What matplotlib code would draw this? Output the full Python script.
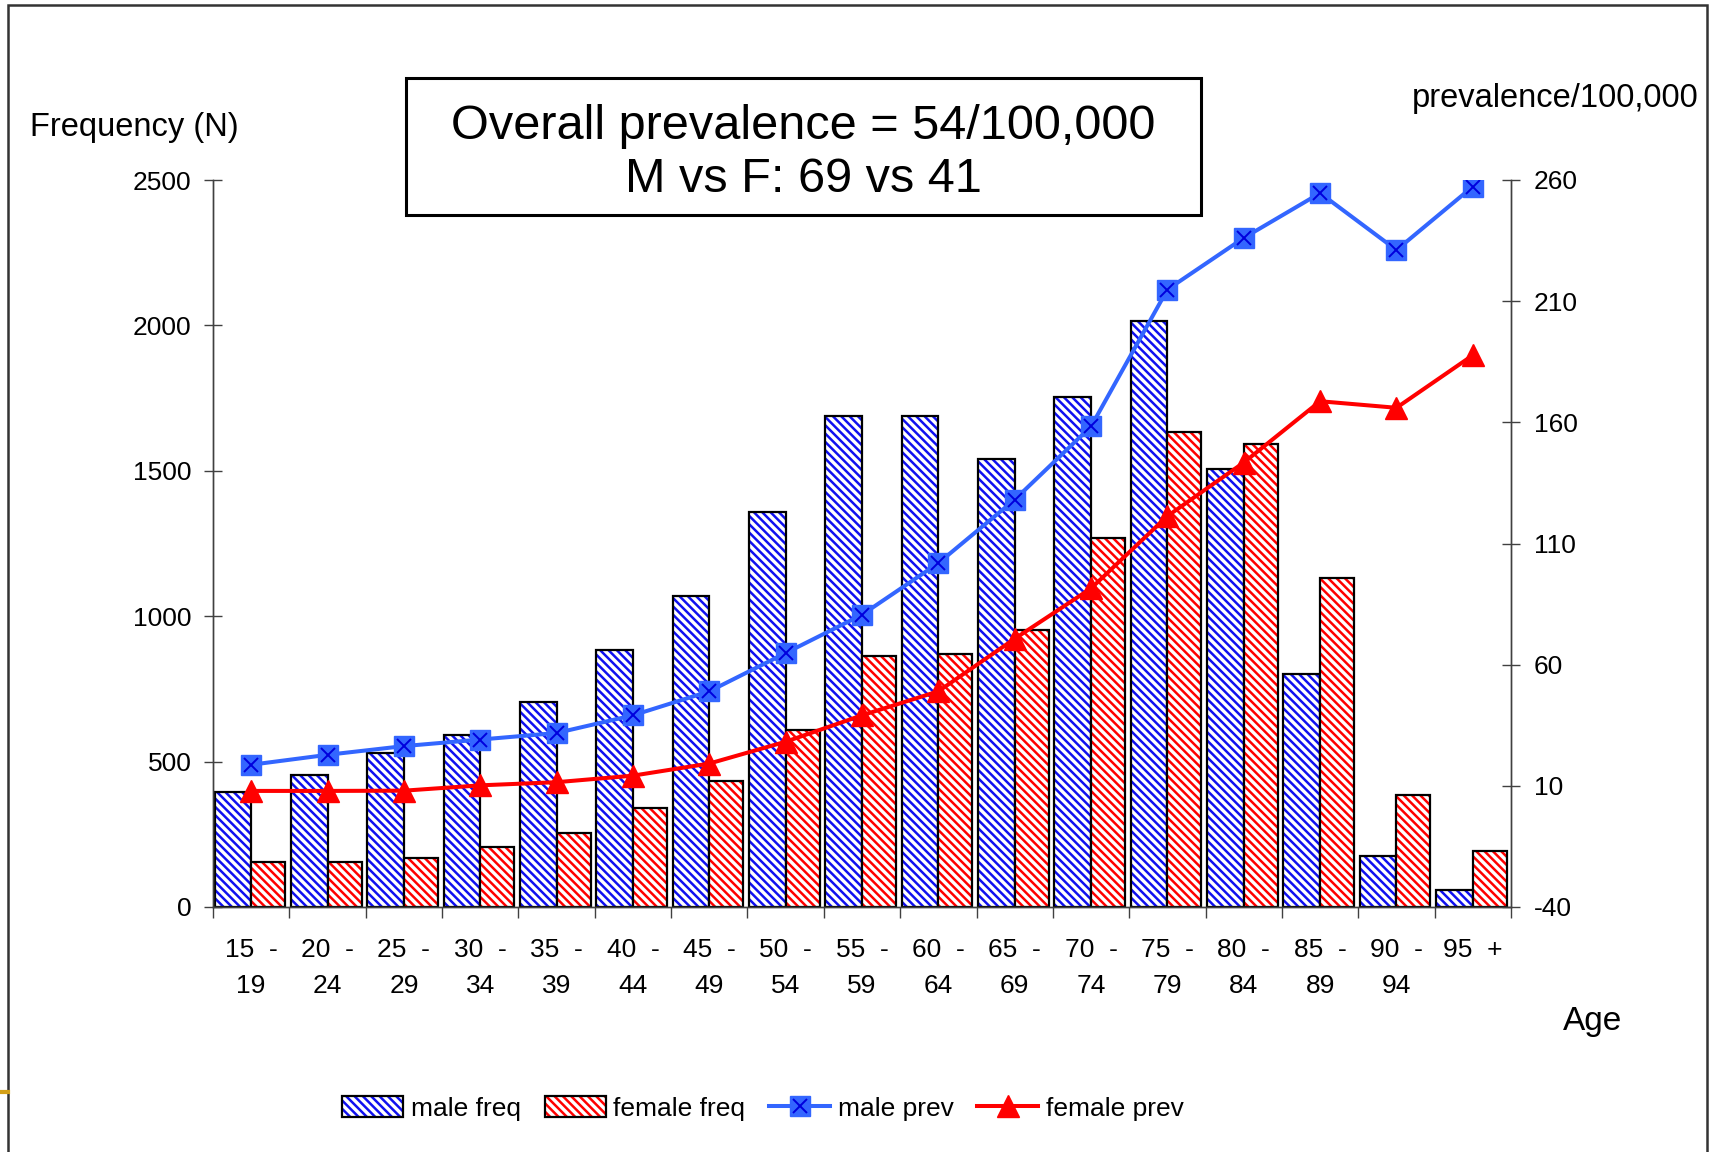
import numpy as np
import matplotlib
matplotlib.use('Agg')
import matplotlib.pyplot as plt
from matplotlib.patches import Rectangle, Patch
from matplotlib.lines import Line2D
from matplotlib.legend_handler import HandlerTuple

plt.rcParams['font.family'] = ['Liberation Sans', 'DejaVu Sans']
plt.rcParams['hatch.linewidth'] = 1.8
plt.rcParams['axes.unicode_minus'] = False

# age groups (x tick labels)
age_groups = ['15  -\n19', '20  -\n24', '25  -\n29', '30  -\n34', '35  -\n39', '40  -\n44',
              '45  -\n49', '50  -\n54', '55  -\n59', '60  -\n64', '65  -\n69', '70  -\n74',
              '75  -\n79', '80  -\n84', '85  -\n89', '90  -\n94', '95  +']

# frequency (N), left axis
male_freq = [395, 455, 530, 590, 705, 885, 1070, 1360, 1690, 1690, 1540, 1755, 2015, 1505, 800, 175, 60]
female_freq = [155, 155, 170, 207, 256, 340, 433, 610, 862, 870, 953, 1269, 1634, 1593, 1130, 384, 192]

# prevalence per 100,000, right axis
male_prev = [18.7, 22.8, 26.4, 29.1, 31.8, 39.1, 49.0, 64.8, 80.6, 101.9, 128.1, 158.3, 214.8, 236.1, 254.6, 231.1, 257.3]
female_prev = [7.9, 7.9, 8.0, 10.2, 11.5, 14.2, 19.2, 28.2, 39.1, 49.0, 70.7, 91.5, 121.3, 143.4, 168.7, 166.0, 187.7]

freq_ticks = [0, 500, 1000, 1500, 2000, 2500]
prev_ticks = [-40, 10, 60, 110, 160, 210, 260]

BLUE_HATCH = '#1010F0'
RED_HATCH = '#FF0000'
BLUE_LINE = '#3366FF'
RED_LINE = '#FF0000'

fig = plt.figure(figsize=(17.15, 11.52), dpi=100)
ax1 = fig.add_axes([213/1715, 1-907/1152, (1511-213)/1715, (907-180)/1152])
ax2 = ax1.twinx()

x = np.arange(len(age_groups))

# bars: hatch layer then black outline layer
ax1.bar(x - 0.48, male_freq, width=0.48, align='edge', color='white', edgecolor=BLUE_HATCH,
        hatch='\\\\\\\\', linewidth=0)
ax1.bar(x - 0.48, male_freq, width=0.48, align='edge', fill=False, edgecolor='black', linewidth=1.6)
ax1.bar(x, female_freq, width=0.445, align='edge', color='white', edgecolor=RED_HATCH,
        hatch='\\\\\\\\', linewidth=0)
ax1.bar(x, female_freq, width=0.445, align='edge', fill=False, edgecolor='black', linewidth=1.6)

ax1.set_xlim(-0.5, len(age_groups) - 0.5)
ax1.set_ylim(0, 2500)
ax1.set_yticks(freq_ticks)
ax1.set_xticks(x)
ax1.set_xticklabels(age_groups, linespacing=1.63)
ax1.set_xticks(np.arange(len(age_groups) + 1) - 0.5, minor=True)
ax1.tick_params(axis='x', which='major', length=0, pad=22, labelsize=19)
ax1.tick_params(axis='x', which='minor', length=8, width=1.0, direction='out', color='#404040')
ax1.tick_params(axis='y', length=13, width=1.0, direction='inout', pad=9, labelsize=19, color='#404040')

# prevalence lines
ax2.plot(x, male_prev, color=BLUE_LINE, lw=2.9, marker='s', ms=13.8, mfc=BLUE_LINE, mec=BLUE_LINE, zorder=3)
ax2.plot(x, male_prev, ls='none', marker='x', ms=10, mec='#0000DD', mew=1.4, zorder=4)
ax2.plot(x, female_prev, color=RED_LINE, lw=2.9, marker='^', ms=16.5, mfc=RED_LINE, mec=RED_LINE, zorder=3)
ax2.set_ylim(-40, 260)
ax2.set_yticks(prev_ticks)
ax2.tick_params(axis='y', length=13, width=1.0, direction='inout', pad=10, labelsize=19, color='#404040')

for a in (ax1, ax2):
    a.spines['top'].set_visible(False)
    for s in ('left', 'right', 'bottom'):
        a.spines[s].set_color('#404040')
        a.spines[s].set_linewidth(1.0)

# axis titles
fig.text(30/1715, 1-136/1152, 'Frequency (N)', fontsize=23.5, ha='left', va='baseline')
fig.text(1412/1715, 1-107/1152, 'prevalence/100,000', fontsize=23.5, ha='left', va='baseline')
fig.text(1563/1715, 1-1030/1152, 'Age', fontsize=24, ha='left', va='baseline')

# boxed summary
fig.patches.append(Rectangle((406/1715, 1-215/1152), (1201-406)/1715, (215-78)/1152,
                             transform=fig.transFigure, fill=False, edgecolor='black', linewidth=2.2))
fig.text(803/1715, 1-139/1152, 'Overall prevalence = 54/100,000', fontsize=35, ha='center', va='baseline')
fig.text(803/1715, 1-192/1152, 'M vs F: 69 vs 41', fontsize=35, ha='center', va='baseline')

# slide frame
fig.patches.append(Rectangle((8/1715, -0.2), (1707-8)/1715, 1.2 - 5/1152,
                             transform=fig.transFigure, fill=False, edgecolor='#333333', linewidth=1.8))
fig.lines.append(Line2D([0, 8/1715], [1-1092/1152, 1-1092/1152], transform=fig.transFigure,
                        color='#D4A017', linewidth=3))

# legend
h_male = (Patch(facecolor='white', edgecolor=BLUE_HATCH, hatch='\\\\\\\\', linewidth=0),
          Patch(fill=False, edgecolor='black', linewidth=1.6))
h_female = (Patch(facecolor='white', edgecolor=RED_HATCH, hatch='\\\\\\\\', linewidth=0),
            Patch(fill=False, edgecolor='black', linewidth=1.6))
h_mprev = (Line2D([], [], color=BLUE_LINE, lw=2.9, marker='s', ms=13.8, mfc=BLUE_LINE, mec=BLUE_LINE),
           Line2D([], [], ls='none', marker='x', ms=10, mec='#0000DD', mew=1.4))
h_fprev = Line2D([], [], color=RED_LINE, lw=2.9, marker='^', ms=16.5, mfc=RED_LINE, mec=RED_LINE)
fig.legend([h_male, h_female, h_mprev, h_fprev], ['male freq', 'female freq', 'male prev', 'female prev'],
           handler_map={tuple: HandlerTuple(ndivide=1)}, loc='center', bbox_to_anchor=(0.445, 0.038),
           ncol=4, frameon=False, fontsize=19, handlelength=2.3, handleheight=0.85,
           handletextpad=0.3, columnspacing=0.9)

fig.savefig('out.png', dpi=100)
